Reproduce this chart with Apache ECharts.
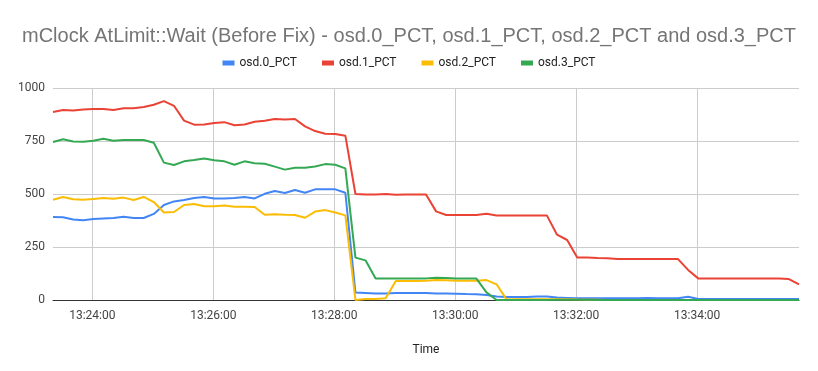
<!DOCTYPE html>
<html>
<head>
<meta charset="utf-8">
<script src="https://cdn.jsdelivr.net/npm/echarts@6/dist/echarts.min.js"></script>
<style>html,body{margin:0;padding:0;background:#fff}#c{width:818px;height:371px}</style>
</head>
<body>
<div id="c"></div>
<script>
const times = ["13:23:21","13:23:31","13:23:41","13:23:51","13:24:01","13:24:11","13:24:21","13:24:31","13:24:41","13:24:51",
"13:25:01","13:25:11","13:25:21","13:25:31","13:25:41","13:25:51","13:26:01","13:26:11","13:26:21","13:26:31",
"13:26:41","13:26:51","13:27:01","13:27:11","13:27:21","13:27:31","13:27:41","13:27:51","13:28:01","13:28:11",
"13:28:21","13:28:31","13:28:41","13:28:51","13:29:01","13:29:11","13:29:21","13:29:31","13:29:41","13:29:51",
"13:30:01","13:30:11","13:30:21","13:30:31","13:30:41","13:30:51","13:31:01","13:31:11","13:31:21","13:31:31",
"13:31:41","13:31:51","13:32:01","13:32:11","13:32:21","13:32:31","13:32:41","13:32:51","13:33:01","13:33:11",
"13:33:21","13:33:31","13:33:41","13:33:51","13:34:01","13:34:11","13:34:21","13:34:31","13:34:41","13:34:51",
"13:35:01","13:35:11","13:35:21","13:35:31","13:35:41"];

const osd0 = [391,390,380,376,382,385,387,393,387,387,
406,448,465,472,481,486,479,479,481,486,
479,501,514,505,519,506,522,522,522,506,
35,33,31,31,33,33,33,33,31,31,
30,28,27,24,17,14,14,14,16,16,
12,10,8,8,8,8,8,8,8,9,
8,8,8,15,5,5,5,5,5,5,
5,5,5,5,5];

const osd1 = [887,896,894,899,901,901,896,904,905,910,
921,938,916,846,827,828,835,839,824,828,
841,846,854,852,854,819,797,784,783,775,
500,498,498,500,497,498,498,498,418,401,
401,401,401,407,399,399,399,399,399,398,
308,283,200,200,198,197,193,193,193,193,
193,193,193,142,102,101,101,101,101,101,
101,101,101,99,74];

const osd2 = [473,486,475,473,476,481,478,483,472,486,
462,413,415,448,453,442,442,446,440,440,
439,402,404,402,401,388,417,424,413,399,
0,5,5,8,90,90,90,91,94,93,
91,91,91,94,74,2,4,4,4,4,
4,4,2,1,1,0,0,0,0,0,
0,0,0,0,0,0,0,0,0,0,
0,0,0,0,0];

const osd3 = [745,758,748,747,751,761,751,755,755,755,
742,648,637,654,660,667,659,654,638,654,
645,643,629,615,624,624,630,641,638,621,
200,187,101,101,101,101,101,102,105,104,
102,101,101,36,0,0,0,0,0,0,
1,1,1,1,0,0,0,0,0,0,
0,0,0,0,0,0,0,0,0,0,
0,0,0,0,0];

const tickLabels = ["13:24:00","13:26:00","13:28:00","13:30:00","13:32:00","13:34:00"];
const seriesNames = ["osd.0_PCT","osd.1_PCT","osd.2_PCT","osd.3_PCT"];
const colors = ["#4285F4","#EA4335","#FBBC04","#34A853"];

function toSec(s){const p=s.split(":").map(Number);return p[0]*3600+p[1]*60+p[2];}
function fmt(v){const h=Math.floor(v/3600),m=Math.floor((v%3600)/60),s=Math.round(v%60);
  const z=n=>(n<10?"0":"")+n;return h+":"+z(m)+":"+z(s);}
const xs = times.map(toSec);
const tickVals = tickLabels.map(toSec);
const allData = [osd0,osd1,osd2,osd3];

const chart = echarts.init(document.getElementById('c'), null, {renderer:'canvas'});
chart.setOption({
  animation:false,
  backgroundColor:'#fff',
  color:colors,
  textStyle:{fontFamily:'Roboto, Arial, sans-serif'},
  title:{text:'mClock AtLimit::Wait (Before Fix) - osd.0_PCT, osd.1_PCT, osd.2_PCT and osd.3_PCT',
    left:'center',top:21,textStyle:{fontSize:20,fontWeight:'normal',color:'#757575',fontFamily:'"Liberation Sans", Arial, sans-serif'}},
  legend:{top:52,left:'center',itemWidth:12,itemHeight:5,itemGap:25,icon:'rect',
    textStyle:{fontSize:12,color:'#222'},data:seriesNames},
  grid:{left:53,right:19,top:88,bottom:71,containLabel:false},
  xAxis:{type:'value',min:xs[0],max:xs[xs.length-1],
    name:'Time',nameLocation:'middle',nameGap:44,nameTextStyle:{fontSize:12,color:'#222'},
    axisLine:{show:true,lineStyle:{color:'#333',width:1}},
    axisTick:{show:false,customValues:tickVals},
    axisLabel:{customValues:tickVals,formatter:fmt,color:'#444',fontSize:12,margin:10},
    splitLine:{show:true,lineStyle:{color:'#ccc',width:1}}},
  yAxis:{type:'value',min:0,max:1000,interval:250,
    axisLine:{show:false},axisTick:{show:false},
    axisLabel:{color:'#444',fontSize:12,margin:8,formatter:v=>String(v)},
    splitLine:{lineStyle:{color:'#ccc',width:1}}},
  series: allData.map((arr,k)=>({
    name:seriesNames[k],type:'line',showSymbol:false,symbol:'none',
    lineStyle:{width:2,color:colors[k]},
    data:arr.map((v,i)=>[xs[i],v])
  }))
});
</script>
</body>
</html>
